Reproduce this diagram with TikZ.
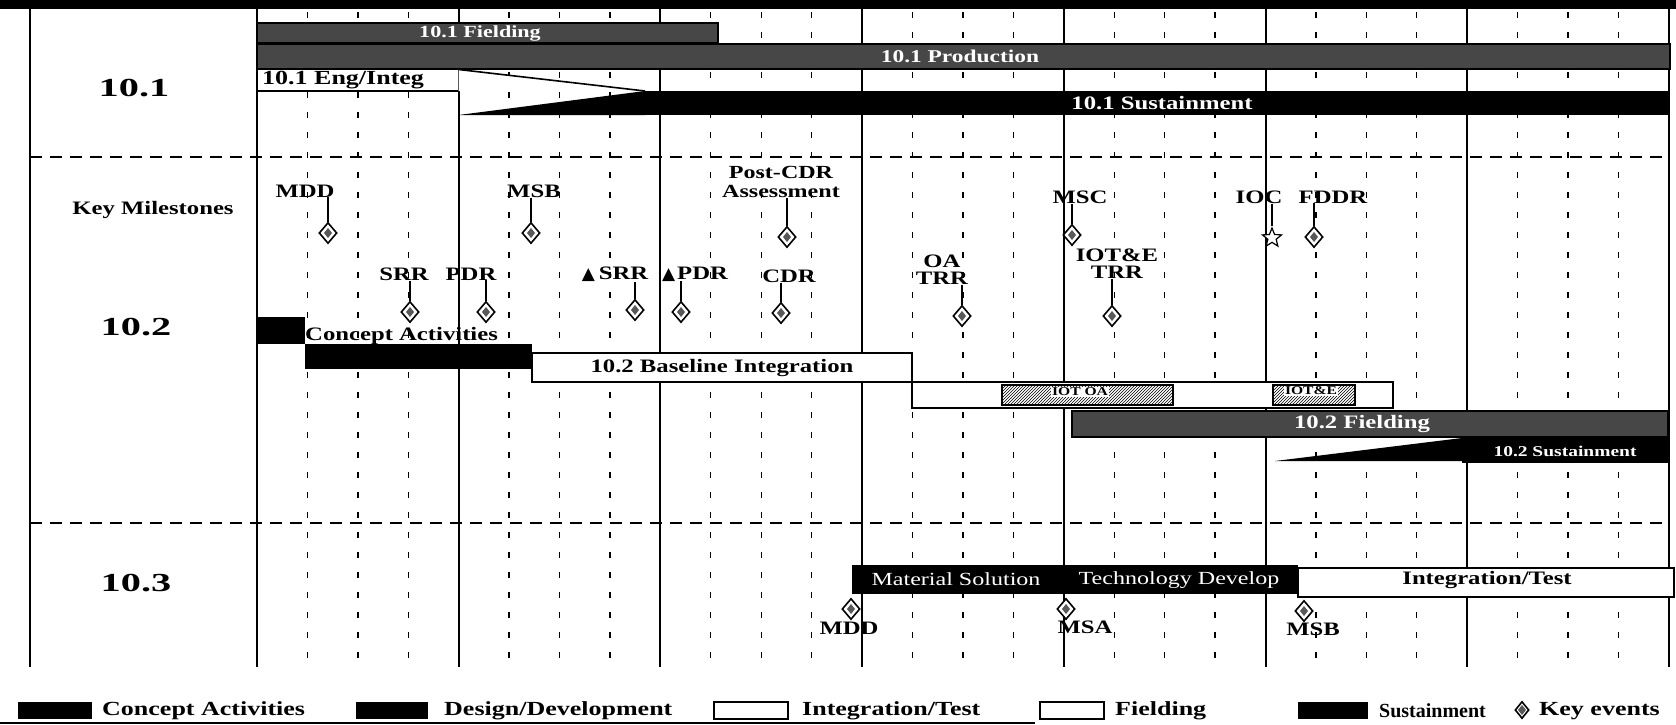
\documentclass[tikz,border=0pt]{standalone}
\usepackage{fontspec}
\setmainfont{Liberation Serif}[FakeStretch=1.3]
\newfontfamily\rowfont{Liberation Serif}[FakeStretch=1.55]
\newfontfamily\plainserif{Liberation Serif}
\newfontfamily\symfont{DejaVu Sans}
\usetikzlibrary{shapes.geometric,patterns}
\newcommand{\fsz}[1]{\fontsize{#1}{#1}\selectfont}
\begin{document}
\begin{tikzpicture}[x=1pt,y=-1pt,
  major/.style={line width=2pt},
  minor/.style={line width=1.3pt,dash pattern=on 6pt off 14pt},
  rowsep/.style={line width=1.2pt,dash pattern=on 12pt off 8pt},
  rowlbl/.style={font=\rowfont\bfseries\fsz{26},inner sep=0},
  keylbl/.style={font=\bfseries\fsz{19},inner sep=0},
  barlbl/.style={font=\bfseries\fsz{19},inner sep=0},
  mslbl/.style={font=\bfseries\fsz{19},inner sep=0,align=center},
  keyev/.style={diamond,draw,line width=1.6pt,fill=white,minimum width=18pt,minimum height=21pt,inner sep=0,
     path picture={\fill[black!65] (path picture bounding box.center) ++(0,-5) -- ++(4,5) -- ++(-4,5) -- ++(-4,-5) -- cycle;}},
  starev/.style={star,star points=5,star point ratio=2.3,draw,line width=1.2pt,fill=white,minimum size=20pt,inner sep=0},
  stem/.style={line width=1.6pt},
  whitebar/.style={fill=white,draw=black,line width=1.6pt},
  noisebar/.style={fill=black!72,draw=black,line width=1.5pt},
  hatchbar/.style={pattern=north east lines,draw=black,line width=1.2pt},
  legtxt/.style={font=\bfseries\fsz{20},inner sep=0,anchor=west}
]
\useasboundingbox (0,0) rectangle (1676,725);
% top band
\fill (0,0) rectangle (1676,9);
% grid
\foreach \i in {0,...,6}{
  \foreach \k in {1,2,3}{
    \draw[minor] ({257+\i*201.7+\k*50.43},12) -- ({257+\i*201.7+\k*50.43},667);
  }
}
\foreach \i in {0,...,7}{
  \draw[major] ({257+\i*201.7},9) -- ({257+\i*201.7},667);
}
\draw[major] (30,9) -- (30,667);
\draw[rowsep] (30,157) -- (1669,157);
\draw[rowsep] (30,523) -- (1669,523);
% row labels
\node[rowlbl] (r101) at (134,88) {10.1};
\node[keylbl] (rkm) at (153,210) {Key Milestones};
\node[rowlbl] (r102) at (136,327) {10.2};
\node[rowlbl] (r103) at (136,583) {10.3};
% ---------- 10.1 bars
\draw[noisebar] (257,23) rectangle (718,43);
\node[barlbl,text=white,font=\bfseries\fsz{17}] (f101) at (480,33) {10.1 Fielding};
\draw[noisebar] (257,44) rectangle (1670,69);
\node[barlbl,text=white,font=\bfseries\fsz{18}] (p101) at (960,56) {10.1 Production};
\draw[whitebar] (257,69.5) rectangle (458.6,91);
\node[barlbl,anchor=west,font=\bfseries\fsz{20}] (e101) at (262,80) {10.1 Eng/Integ};
\fill[white] (458.6,69.5) -- (645,91) -- (458.6,91) -- cycle;
\draw[line width=1.6pt] (458.6,69.5) -- (645,91);
\fill (458.6,115) -- (645,91) -- (645,115) -- cycle;
\fill (645,91) rectangle (1670,115);
\node[barlbl,text=white] (s101) at (1162,103) {10.1 Sustainment};
% ---------- 10.2 bars
\fill (257,317) rectangle (305,344);
\fill (305,344) rectangle (532,369);
\node[barlbl,anchor=base west] (ca102) at (305,340) {Concept Activities};
\draw[whitebar] (532,353) rectangle (912,382);
\node[barlbl] (bi102) at (722,368) {10.2 Baseline Integration};
\draw[whitebar] (912,382) rectangle (1393,408);
\draw[hatchbar] (1002,385) rectangle (1173,405);
\node[font=\bfseries\fsz{12},fill=white,inner sep=1pt] (iotoa) at (1080,392) {IOT OA};
\draw[hatchbar] (1273,385) rectangle (1355,405);
\node[font=\bfseries\fsz{12},fill=white,inner sep=1pt] (iote) at (1311,391) {IOT\&E};
\draw[noisebar] (1072,411) rectangle (1668,437);
\node[barlbl,text=white] (f102) at (1362,424) {10.2 Fielding};
\fill (1275,461) -- (1462,438) -- (1462,461) -- cycle;
\fill (1462,438) rectangle (1668,463);
\node[barlbl,text=white,font=\bfseries\fsz{15}] (s102) at (1565,451) {10.2 Sustainment};
% ---------- 10.3 bars
\fill (852,565) rectangle (1298,594);
\node[font=\fsz{18.5},text=white,inner sep=0] (ms103) at (956,579) {Material Solution};
\node[font=\fsz{18.5},text=white,inner sep=0] (td103) at (1179,580) {Technology Develop};
\draw[whitebar] (1298,568) rectangle (1674,597);
\node[barlbl] (it103) at (1487,580) {Integration/Test};
% ---------- milestones (upper)
\node[mslbl] (mddL) at (305,191) {MDD};
\node[keyev] (mdd) at (328,233) {};
\draw[stem] (mddL.south -| mdd) -- (mdd.north);
\node[mslbl] (msbL) at (534,191) {MSB};
\node[keyev] (msb) at (531,233) {};
\draw[stem] (msbL.south -| msb) -- (msb.north);
\node[mslbl,font=\bfseries\fsz{18.5}] (pcdrL) at (781,182) {Post-CDR\\[1pt]Assessment};
\node[keyev] (pcdr) at (787,237) {};
\draw[stem] (pcdrL.south -| pcdr) -- (pcdr.north);
\node[mslbl] (mscL) at (1080,197) {MSC};
\node[keyev] (msc) at (1072,235) {};
\draw[stem] (mscL.south -| msc) -- (msc.north);
\node[mslbl] (iocL) at (1259,197) {IOC};
\node[starev] (ioc) at (1272,238) {};
\draw[stem] (iocL.south -| ioc) -- (ioc.north);
\node[mslbl] (fddrL) at (1333,197) {FDDR};
\node[keyev] (fddr) at (1314,237) {};
\draw[stem] (fddrL.south -| fddr) -- (fddr.north);
% ---------- milestones (lower)
\node[mslbl] (srrL) at (404,274) {SRR};
\node[keyev] (srr) at (410,312) {};
\draw[stem] (srrL.south -| srr) -- (srr.north);
\node[mslbl] (pdrL) at (471,274) {PDR};
\node[keyev] (pdr) at (486,312) {};
\draw[stem] (pdrL.south -| pdr) -- (pdr.north);
\node[mslbl] (asrrL) at (615,274) {{\symfont\fsz{17}▲}\hspace{4pt}SRR};
\node[keyev] (asrr) at (635,310) {};
\draw[stem] (asrrL.south -| asrr) -- (asrr.north);
\node[mslbl] (apdrL) at (695,274) {{\symfont\fsz{17}▲}\hspace{2pt}PDR};
\node[keyev] (apdr) at (681,312) {};
\draw[stem] (apdrL.south -| apdr) -- (apdr.north);
\node[mslbl] (cdrL) at (789,276) {CDR};
\node[keyev] (cdr) at (781,313) {};
\draw[stem] (cdrL.south -| cdr) -- (cdr.north);
\node[mslbl] (oaL) at (942,270) {OA\\[-2pt]TRR};
\node[keyev] (oa) at (962,316) {};
\draw[stem] (oaL.south -| oa) -- (oa.north);
\node[mslbl] (iotL) at (1117,264) {IOT\&E\\[-2pt]TRR};
\node[keyev] (iot) at (1112,316) {};
\draw[stem] (iotL.south -| iot) -- (iot.north);
% ---------- 10.3 milestones
\node[keyev] (mdd3) at (851,609) {};
\node[mslbl] (mdd3L) at (849,628) {MDD};
\node[keyev] (msa3) at (1066,609) {};
\node[mslbl] (msa3L) at (1085,627) {MSA};
\node[keyev] (msb3) at (1304,611) {};
\node[mslbl] (msb3L) at (1313,629) {MSB};
% ---------- legend
\fill (18,702) rectangle (92,719);
\node[legtxt] (lg1) at (102,711) {Concept Activities};
\fill (356,702) rectangle (428,719);
\node[legtxt] (lg2) at (444,711) {Design/Development};
\draw[line width=1.4pt] (714,702) rectangle (788,719);
\node[legtxt] (lg3) at (802,711) {Integration/Test};
\draw[line width=1.6pt] (1040,702) rectangle (1104,719);
\node[legtxt] (lg4) at (1115,711) {Fielding};
\fill (1298,702) rectangle (1368,719);
\node[legtxt,font=\plainserif\bfseries\fsz{20}] (lg5) at (1379,711) {Sustainment};
\node[keyev,minimum width=14pt,minimum height=17pt] (lg6d) at (1522,710) {};
\node[legtxt,font=\bfseries\fsz{20}] (lg6) at (1539,711) {Key events};
\draw[line width=1.5pt] (0,723) -- (1035,723);
\end{tikzpicture}
\end{document}
